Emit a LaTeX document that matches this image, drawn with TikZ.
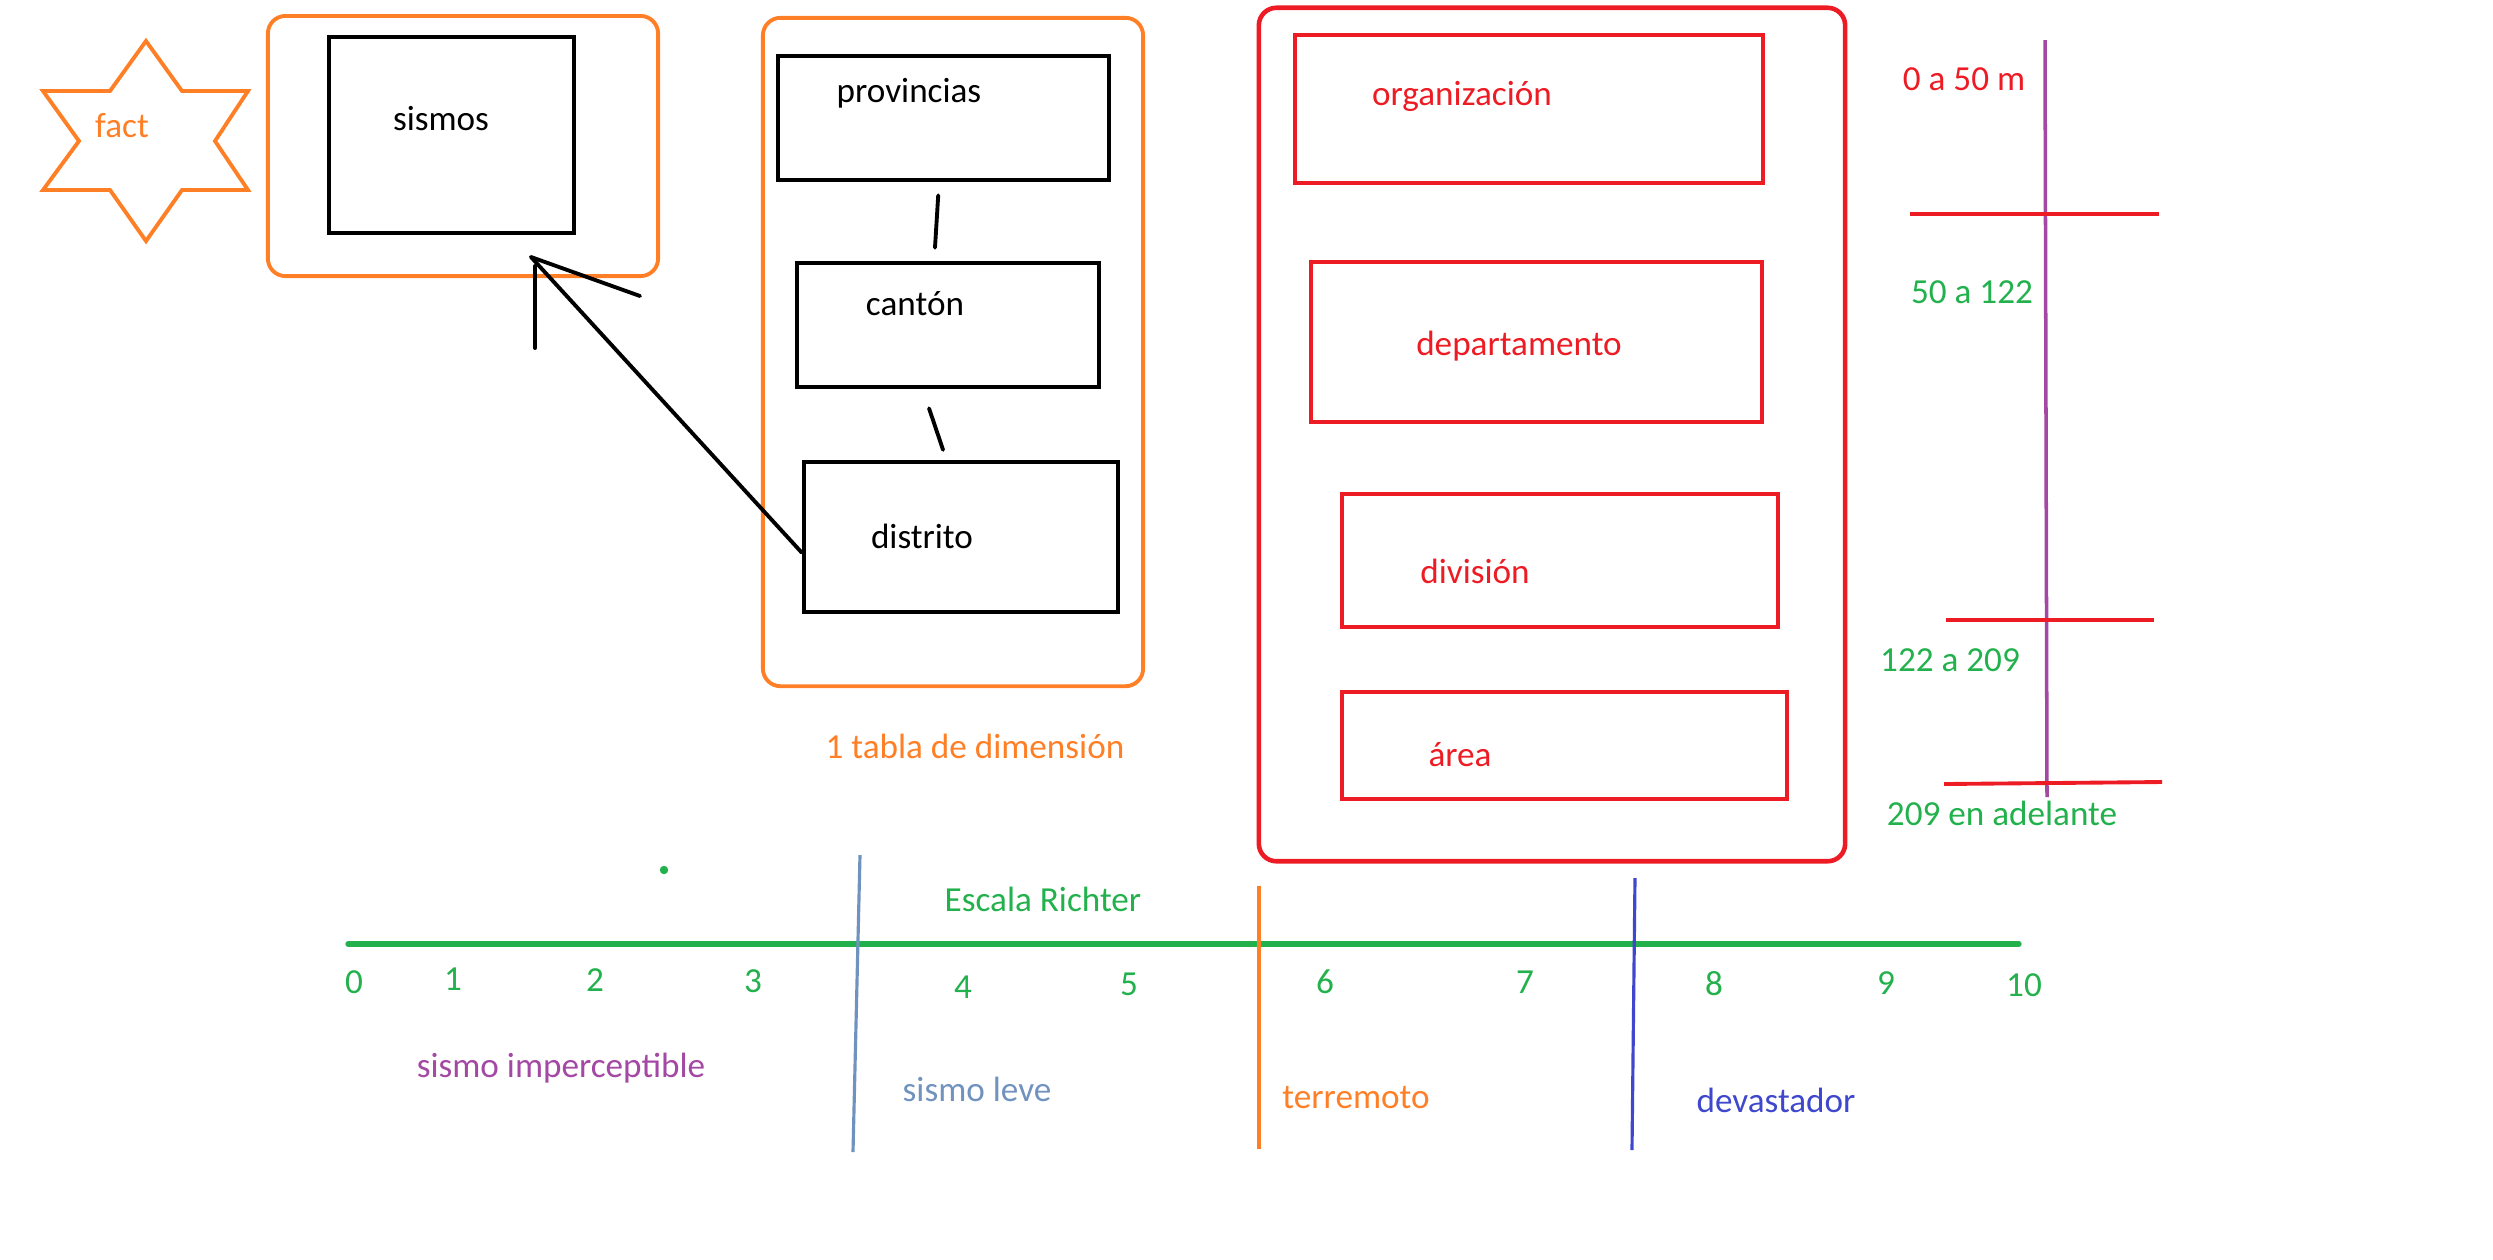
\documentclass[tikz,border=0pt]{standalone}
\usepackage{fontspec}
\setmainfont{Carlito}
\usetikzlibrary{calc}
\definecolor{paintorange}{HTML}{FF7F27}
\definecolor{paintred}{HTML}{ED1C24}
\definecolor{paintgreen}{HTML}{22B14C}
\definecolor{paintpurple}{HTML}{A349A4}
\definecolor{paintblue}{HTML}{3F48CC}
\definecolor{paintsteel}{HTML}{7092BE}
\tikzset{
  blackbox/.style={draw=black, line width=1.3pt, inner sep=0pt},
  redbox/.style={draw=paintred, line width=1.3pt, inner sep=0pt},
  orangeframe/.style={draw=paintorange, line width=1.1pt, rounded corners=5pt, inner sep=0pt},
  redframe/.style={draw=paintred, line width=1.3pt, rounded corners=5pt, inner sep=0pt},
  link/.style={draw=black, line width=1.1pt, line cap=round},
  divider/.style={line width=0.9pt},
  lbl/.style={anchor=base, inner sep=0pt, font=\fontsize{10}{12}\selectfont},
}
\begin{document}
\begin{tikzpicture}[x=0.01cm, y=-0.01cm]
	\useasboundingbox (0,0) rectangle (2493,1259);
	% fact star
	\draw[paintorange, line width=1.1pt, line join=miter] (146,41) -- (182,91) -- (248,91) -- (215,141) -- (248,190) -- (182,190) -- (146,241) -- (110,190) -- (43,190) -- (79,141) -- (43,91) -- (110,91) -- cycle;
	\node[lbl, text=paintorange] (factlbl) at (122,137) {fact};
	% fact table
	\node[orangeframe, minimum width=3.9cm, minimum height=2.6cm] (factframe) at (463,146) {};
	\node[blackbox, minimum width=2.45cm, minimum height=1.96cm] (sismos) at (451.5,135) {};
	\node[lbl] (sismoslbl) at (441,130) {sismos};
	% dimension table
	\node[orangeframe, minimum width=3.8cm, minimum height=6.68cm] (dimframe) at (953,352) {};
	\node[blackbox, minimum width=3.31cm, minimum height=1.24cm] (prov) at (943.5,118) {};
	\node[blackbox, minimum width=3.02cm, minimum height=1.24cm] (cant) at (948,325) {};
	\node[blackbox, minimum width=3.14cm, minimum height=1.5cm] (dist) at (961,537) {};
	\node[lbl] (provlbl) at (909,102) {provincias};
	\node[lbl] (cantlbl) at (915,315) {cantón};
	\node[lbl] (distlbl) at (922,548) {distrito};
	\draw[link] ([xshift=-1.5pt,yshift=-3.7pt]prov.south) -- ([xshift=-3.7pt,yshift=3.7pt]cant.north);
	\draw[link] ([xshift=-5.4pt,yshift=-5.4pt]cant.south) -- ([xshift=-5.1pt,yshift=2.8pt]dist.north);
	% arrow to the fact table, barbs drawn by hand
	\coordinate (tip) at (531,257);
	\draw[link] ($(dist.south west)!0.4!(dist.north west)$) -- (tip);
	\draw[link] ([shift={(4,9)}]tip) -- ++(0,82);
	\draw[link] (tip) -- ++(109,39);
	\node[lbl, text=paintorange] (dimlbl) at (975,758) {1 tabla de dimensión};
	% organization table
	\node[redframe, minimum width=5.86cm, minimum height=8.53cm] (orgframe) at (1552,434.5) {};
	\node[redbox, minimum width=4.68cm, minimum height=1.48cm] (org) at (1529,109) {};
	\node[redbox, minimum width=4.51cm, minimum height=1.6cm] (dep) at (1536.5,342) {};
	\node[redbox, minimum width=4.36cm, minimum height=1.33cm] (div) at (1560,560.5) {};
	\node[redbox, minimum width=4.45cm, minimum height=1.07cm] (area) at (1564.5,745.5) {};
	\node[lbl, text=paintred] (orglbl) at (1462,105.5) {organización};
	\node[lbl, text=paintred] (deplbl) at (1519,355) {departamento};
	\node[lbl, text=paintred] (divlbl) at (1475,583) {división};
	\node[lbl, text=paintred] (arealbl) at (1460,766) {área};
	% altitude scale
	\draw[paintpurple, line width=1pt] (2045,40) -- (2047,797);
	\draw[paintred, line width=1.1pt] (1910,214) -- (2159,214);
	\draw[paintred, line width=1.1pt] (1946,620) -- (2154,620);
	\draw[paintred, line width=1.1pt] (1944,784) -- (2162,782);
	\node[lbl, text=paintred] (alt1) at (1964,90) {0 a 50 m};
	\node[lbl, text=paintgreen] (alt2) at (1972,303) {50 a 122};
	\node[lbl, text=paintgreen] (alt3) at (1950,671.5) {122 a 209};
	\node[lbl, text=paintgreen] (alt4) at (2002,825) {209 en adelante};
	% Richter scale
	\fill[paintgreen] (664,870) circle (1.2pt);
	\draw[paintgreen, line width=1.5pt, line cap=round] (348,944) -- (2019,944);
	\node[lbl, text=paintgreen] (richter) at (1043,911) {Escala Richter};
	\draw[paintsteel, divider] (860,855) -- (853,1152);
	\draw[paintorange, divider] (1259,886) -- (1259,1149);
	\draw[paintblue, divider] (1635,878) -- (1632,1150);
	\node[lbl, text=paintgreen] (d0) at (354,993) {0};
	\node[lbl, text=paintgreen] (d1) at (453,990) {1};
	\node[lbl, text=paintgreen] (d2) at (595,991) {2};
	\node[lbl, text=paintgreen] (d3) at (753,992) {3};
	\node[lbl, text=paintgreen] (d4) at (963,998) {4};
	\node[lbl, text=paintgreen] (d5) at (1129,995) {5};
	\node[lbl, text=paintgreen] (d6) at (1325,993) {6};
	\node[lbl, text=paintgreen] (d7) at (1525,993) {7};
	\node[lbl, text=paintgreen] (d8) at (1714,995) {8};
	\node[lbl, text=paintgreen] (d9) at (1886,994) {9};
	\node[lbl, text=paintgreen] (d10) at (2024,996) {10};
	\node[lbl, text=paintpurple] (imperc) at (561,1077) {sismo imperceptible};
	\node[lbl, text=paintsteel] (leve) at (977,1101) {sismo leve};
	\node[lbl, text=paintorange] (terre) at (1356,1108) {terremoto};
	\node[lbl, text=paintblue] (devas) at (1776,1112) {devastador};
\end{tikzpicture}
\end{document}
